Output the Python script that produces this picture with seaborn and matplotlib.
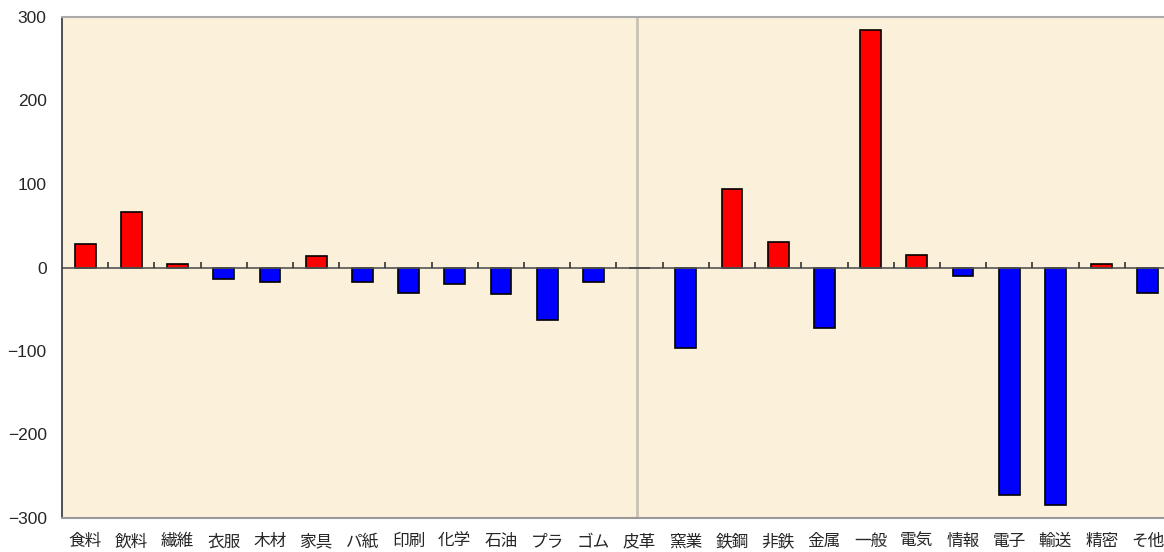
import matplotlib
matplotlib.use("Agg")
import matplotlib.pyplot as plt
import seaborn as sns
import pandas as pd

# 業種別の増減
categories = ['食料', '飲料', '繊維', '衣服', '木材', '家具', 'パ紙', '印刷', '化学', '石油', 'プラ', 'ゴム',
              '皮革', '窯業', '鉄鋼', '非鉄', '金属', '一般', '電気', '情報', '電子', '輸送', '精密', 'そ他']
values = [28, 66, 4, -14, -17, 14, -17, -31, -20, -32, -63, -17,
          0, -96, 94, 30, -72, 284, 15, -10, -272, -285, 4, -31]
y_ticks = [-300, -200, -100, 0, 100, 200, 300]

sns.set_style('white')
plt.rcParams['font.family'] = ['Liberation Sans', 'Noto Sans CJK JP', 'DejaVu Sans']
plt.rcParams['axes.unicode_minus'] = True

df = pd.DataFrame({'cat': categories, 'val': values})
df['sign'] = ['plus' if v >= 0 else 'minus' for v in values]

fig = plt.figure(figsize=(11.64, 5.52), dpi=100)
ax = fig.add_axes([62 / 1164, 1 - 518 / 552, 1109 / 1164, 501 / 552])
ax.set_facecolor('#fbf0da')

sns.barplot(data=df, x='cat', y='val', hue='sign', order=categories,
            palette={'plus': '#ff0000', 'minus': '#0000ff'}, dodge=False, saturation=1,
            width=0.45, edgecolor='black', linewidth=1.2, legend=False, ax=ax)

# 用紙の折り目のような縦線
ax.axvline(11.94, color='#c9c2b4', lw=2, zorder=0.5)

# ゼロ線と区切り目盛
ax.axhline(0, color='#555555', lw=1.2, zorder=1)
ax.vlines([i + 0.5 for i in range(len(categories) - 1)], 0, 6.5, color='#333333', lw=1.2, zorder=1)

ax.set_ylim(-300, 300)
ax.set_xlim(-0.5, len(categories) - 0.5)
ax.set_yticks(y_ticks)
ax.set_xlabel('')
ax.set_ylabel('')

ax.spines['right'].set_visible(False)
ax.spines['left'].set_color('#333333')
ax.spines['left'].set_linewidth(1.2)
ax.spines['top'].set_color('#aaaaaa')
ax.spines['top'].set_linewidth(1.5)
ax.spines['bottom'].set_color('#999999')
ax.spines['bottom'].set_linewidth(1.5)

ax.tick_params(axis='y', direction='in', length=4, width=1, color='#333333', pad=11, labelsize=12.5)
ax.tick_params(axis='x', length=0, pad=11)
for lab in ax.get_xticklabels():
    lab.set_fontfamily(['Noto Sans CJK JP', 'DejaVu Sans'])
    lab.set_fontsize(12)

fig.savefig('out.png', dpi=100)
